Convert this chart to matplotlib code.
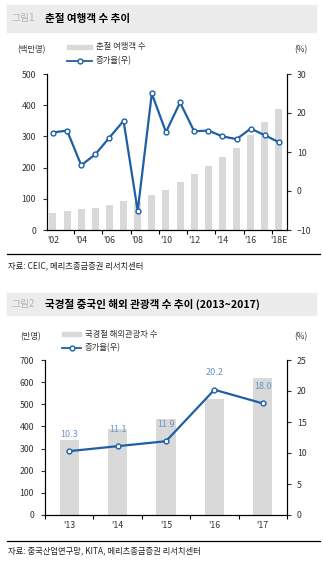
import matplotlib.pyplot as plt
import matplotlib.patches as mpatches
from matplotlib.lines import Line2D

plt.rcParams['font.family'] = ['Noto Sans CJK KR', 'DejaVu Sans']

# 춘절 여행객 수 (백만명) / 증가율 (%)
years1 = ["'02", "'03", "'04", "'05", "'06", "'07", "'08", "'09", "'10",
          "'11", "'12", "'13", "'14", "'15", "'16", "'17", "'18E"]
travelers1 = [55, 62, 67, 72, 81, 94, 89, 113, 128, 155, 178, 205, 233, 264, 304, 347, 389]
growth1 = [15.0, 15.5, 6.6, 9.4, 13.7, 18.0, -5.1, 25.0, 15.1, 22.7, 15.3, 15.5, 14.0, 13.3, 16.0, 14.3, 12.5]

# 국경절 해외관광자 수 (만명) / 증가율 (%)
years2 = ["'13", "'14", "'15", "'16", "'17"]
travelers2 = [340, 390, 435, 523, 618]
growth2 = [10.3, 11.1, 11.9, 20.2, 18.0]

W, H = 323, 562
BAR = '#d9d9d9'
LINE = '#1f5fa3'
LABEL = '#6b95c9'
FS = 6.3

fig = plt.figure(figsize=(W / 100, H / 100), dpi=100)


def fx(px):
    return px / W


def fy(py):
    return 1 - py / H


def header(y0, y1, num, title):
    fig.patches.append(mpatches.Rectangle((fx(7), fy(y1)), fx(309), (y1 - y0) / H,
                                          transform=fig.transFigure, color='#ececec', zorder=0))
    yc = fy((y0 + y1) / 2)
    fig.text(fx(11), yc, num, color='#b3b3b3', fontsize=7, va='center')
    fig.text(fx(45), yc, title, color='black', fontsize=7.6, fontweight='bold', va='center')


def footer(yline, ytext, source):
    fig.add_artist(Line2D([fx(7), fx(320)], [fy(yline), fy(yline)], color='black', lw=0.9))
    fig.text(fx(8), fy(ytext), source, fontsize=6, va='center', color='#222222')


def legend(x, y, bar_label, line_label, bar_w):
    fig.patches.append(mpatches.Rectangle((fx(x), fy(y + 2)), fx(bar_w), 4 / H,
                                          transform=fig.transFigure, color=BAR))
    fig.text(fx(x + bar_w + 4), fy(y), bar_label, fontsize=6, va='center', color='#333333')
    yl = y + 14
    fig.add_artist(Line2D([fx(x), fx(x + bar_w)], [fy(yl), fy(yl)], color=LINE, lw=1.3))
    fig.add_artist(Line2D([fx(x + bar_w / 2)], [fy(yl)], color=LINE, marker='o', ms=3.5,
                          mfc='white', mew=1))
    fig.text(fx(x + bar_w + 4), fy(yl), line_label, fontsize=6, va='center', color='#333333')


def style(ax, ax2):
    for a in (ax, ax2):
        a.spines['top'].set_visible(False)
        a.patch.set_visible(False)
    ax.tick_params(axis='y', direction='out', length=3, width=0.8, labelsize=FS, pad=5, colors='#333333')
    ax2.tick_params(axis='y', direction='out', length=3, width=0.8, labelsize=FS, pad=4, colors='#333333')
    ax.tick_params(axis='x', which='major', length=0, labelsize=FS, pad=4, colors='#333333')
    ax.tick_params(axis='x', which='minor', direction='out', length=3, width=0.8)


# ---- 그림1 ----
header(5, 32, '그림1', '춘절 여행객 수 추이')
fig.text(fx(17), fy(50), '(백만명)', fontsize=6, va='center', color='#333333')
fig.text(fx(294), fy(50), '(%)', fontsize=6, va='center', color='#333333')
legend(67, 47, '춘절 여행객 수', '증가율(우)', 25)

ax1 = fig.add_axes([fx(47), fy(230), fx(240), 156 / H])
x1 = list(range(len(years1)))
ax1.bar(x1, travelers1, width=0.5, color=BAR, zorder=1)
ax1.set_ylim(0, 500)
ax1.set_yticks(range(0, 501, 100))
ax1.set_xlim(-0.42, len(years1) - 1 + 0.57)
ax1.set_xticks(x1[::2])
ax1.set_xticklabels(years1[::2])
ax1.set_xticks([i + 1.5 for i in x1[::2][:-1]], minor=True)
ax1b = ax1.twinx()
ax1b.plot(x1, growth1, color=LINE, lw=1.6, marker='o', ms=3.5, mfc='white', mew=1, zorder=3)
ax1b.set_ylim(-10, 30)
ax1b.set_yticks(range(-10, 31, 10))
ax1.set_zorder(ax1b.get_zorder() - 1)
style(ax1, ax1b)
footer(254, 266, '자료: CEIC, 메리츠종금증권 리서치센터')

# ---- 그림2 ----
header(293, 315, '그림2', '국경절 중국인 해외 관광객 수 추이 (2013~2017)')
fig.text(fx(20), fy(337), '(만명)', fontsize=6, va='center', color='#333333')
fig.text(fx(294), fy(337), '(%)', fontsize=6, va='center', color='#333333')
legend(62, 334, '국경절 해외관광자 수', '증가율(우)', 19)

ax2 = fig.add_axes([fx(45), fy(515), fx(242), 155 / H])
x2 = list(range(len(years2)))
ax2.bar(x2, travelers2, width=0.4, color=BAR, zorder=1)
ax2.set_ylim(0, 700)
ax2.set_yticks(range(0, 701, 100))
ax2.set_xlim(-0.48, len(years2) - 1 + 0.5)
ax2.set_xticks(x2)
ax2.set_xticklabels(years2)
ax2.set_xticks([i - 0.5 for i in x2] + [len(years2) - 0.5], minor=True)
ax2b = ax2.twinx()
ax2b.plot(x2, growth2, color=LINE, lw=1.6, marker='o', ms=3.5, mfc='white', mew=1, zorder=3)
for xi, g in zip(x2, growth2):
    ax2b.annotate(f'{g:.1f}', (xi, g), xytext=(0, 9), textcoords='offset points',
                  ha='center', va='bottom', fontsize=6.5, color=LABEL)
ax2b.set_ylim(0, 25)
ax2b.set_yticks(range(0, 26, 5))
ax2.set_zorder(ax2b.get_zorder() - 1)
style(ax2, ax2b)
footer(541, 551, '자료: 중국산업연구망, KITA, 메리츠종금증권 리서치센터')

fig.savefig('out.png', dpi=100)
